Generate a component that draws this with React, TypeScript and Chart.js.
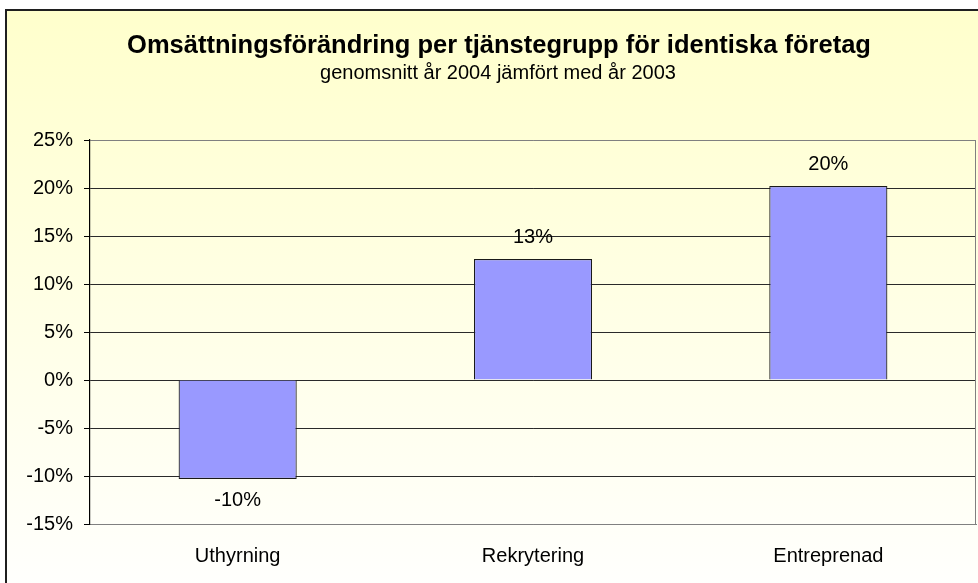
import React, { useEffect, useRef } from "react";
import { Chart, registerables } from "chart.js";

Chart.register(...registerables);

const categories: string[] = ["Uthyrning", "Rekrytering", "Entreprenad"];
const values: number[] = [-10.3, 12.6, 20.2];
const yMin = -15;
const yMax = 25;
const yStep = 5;
const titleText = "Omsättningsförändring per tjänstegrupp för identiska företag";
const subtitleText = "genomsnitt år 2004 jämfört med år 2003";

const FONT = "'Liberation Sans', Arial, sans-serif";

const backgroundPlugin = {
  id: "bgFrame",
  beforeDraw(chart: any) {
    const { ctx, width, height } = chart;
    ctx.save();
    ctx.fillStyle = "#ffffff";
    ctx.fillRect(0, 0, width, height);
    const g = ctx.createLinearGradient(0, 9, 0, 610);
    g.addColorStop(0, "#FFFFCC");
    g.addColorStop(1, "#FFFFFF");
    ctx.fillStyle = g;
    ctx.fillRect(6, 10, width, height);
    ctx.fillStyle = "#1f1f1f";
    ctx.fillRect(5, 9, width, 2);
    ctx.fillRect(5, 9, 2, height);
    // titles
    ctx.fillStyle = "#000";
    ctx.textAlign = "center";
    ctx.textBaseline = "alphabetic";
    ctx.font = `bold 25.5px ${FONT}`;
    ctx.fillText(titleText, 499, 52.5);
    ctx.font = `20px ${FONT}`;
    ctx.fillText(subtitleText, 498, 79.3);
    ctx.restore();
  },
  beforeDatasetsDraw(chart: any) {
    const { ctx, chartArea } = chart;
    ctx.save();
    ctx.strokeStyle = "#808080";
    ctx.lineWidth = 1;
    ctx.beginPath();
    ctx.moveTo(Math.round(chartArea.right) - 0.5, chartArea.top);
    ctx.lineTo(Math.round(chartArea.right) - 0.5, chartArea.bottom);
    ctx.stroke();
    ctx.restore();
  },
};

const valueLabelPlugin = {
  id: "valueLabels",
  afterDatasetsDraw(chart: any) {
    const { ctx } = chart;
    const meta = chart.getDatasetMeta(0);
    ctx.save();
    ctx.fillStyle = "#000";
    ctx.font = `20px ${FONT}`;
    ctx.textAlign = "center";
    ctx.textBaseline = "alphabetic";
    meta.data.forEach((bar: any, i: number) => {
      const v = values[i];
      const label = Math.round(v) + "%";
      const y = v >= 0 ? bar.y - 16 : bar.y + 27.5;
      ctx.fillText(label, bar.x, y);
    });
    ctx.restore();
  },
};

export default function App() {
  const ref = useRef<HTMLCanvasElement | null>(null);
  useEffect(() => {
    document.body.style.margin = "0";
    if (!ref.current) return;
    const chart = new Chart(ref.current, {
      type: "bar",
      data: {
        labels: categories,
        datasets: [
          {
            data: values,
            backgroundColor: "#9999FF",
            borderColor: "#1a1a1a",
            borderWidth: 1.2,
            categoryPercentage: 1,
            barPercentage: 0.4,
          },
        ],
      },
      options: {
        animation: false,
        responsive: false,
        maintainAspectRatio: false,
        layout: { padding: { top: 140, left: 0, right: 2, bottom: 0 } },
        plugins: {
          legend: { display: false },
          tooltip: { enabled: false },
          title: { display: false },
          subtitle: { display: false },
        },
        scales: {
          x: {
            grid: { display: false, drawTicks: false },
            border: { display: true, color: "#808080", width: 1 },
            ticks: {
              color: "#000",
              font: { family: FONT, size: 20 },
              padding: 20,
            },
            afterFit(scale: any) {
              scale.height = 59;
            },
          },
          y: {
            min: yMin,
            max: yMax,
            ticks: {
              stepSize: yStep,
              color: "#000",
              font: { family: FONT, size: 20 },
              padding: 11,
              callback: (v: any) => v + "%",
            },
            grid: {
              color: (c: any) =>
                c.tick && (c.tick.value === yMax || c.tick.value === yMin) ? "#808080" : "#2a2a2a",
              tickColor: "#000",
              tickLength: 6,
              lineWidth: 1,
            },
            border: { display: true, color: "#000", width: 1.2 },
            afterFit(scale: any) {
              scale.width = 90;
            },
          },
        },
      },
      plugins: [backgroundPlugin, valueLabelPlugin],
    });
    return () => chart.destroy();
  }, []);
  return (
    <div style={{ position: "absolute", left: 0, top: 0, width: 978, height: 583 }}>
      <canvas ref={ref} width={978} height={583} style={{ display: "block" }} />
    </div>
  );
}
